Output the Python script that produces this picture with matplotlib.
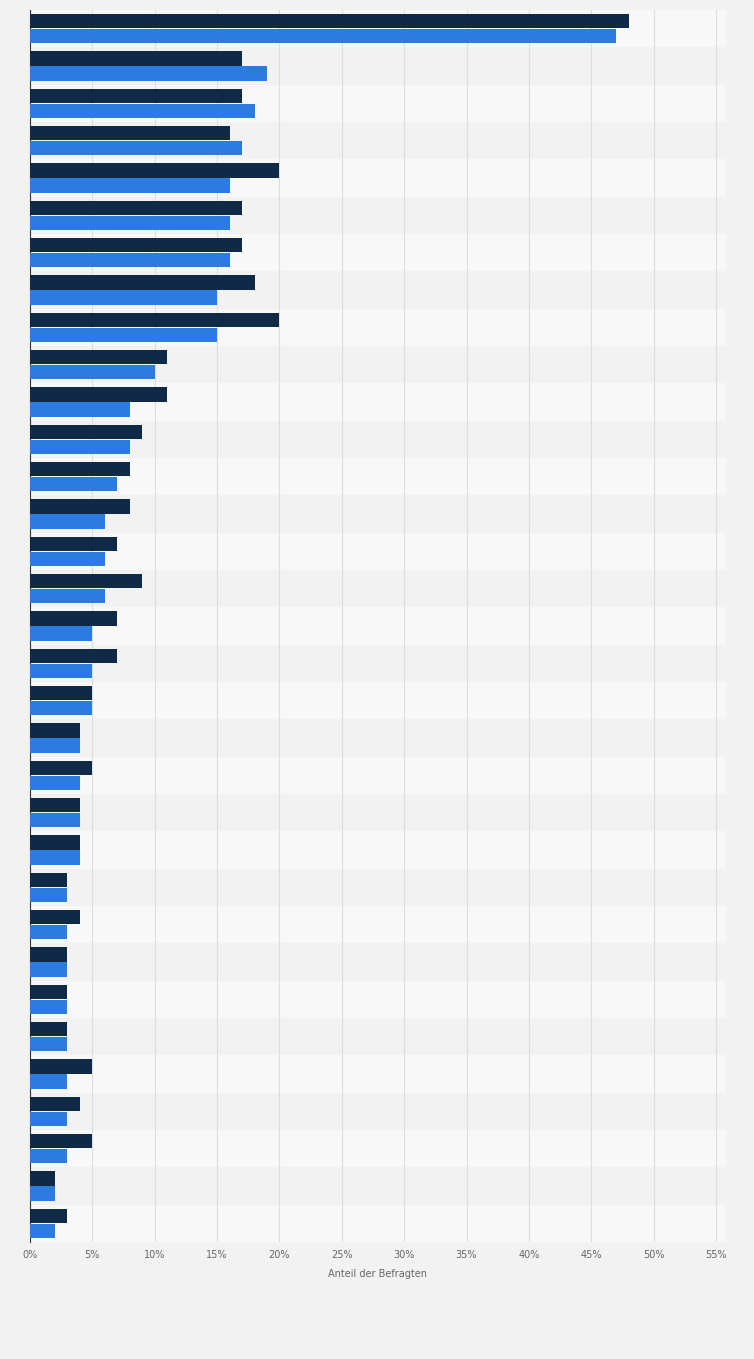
import numpy as np
import matplotlib.pyplot as plt

# two survey waves, one row per answer option (labels not shown in the source)
dark_values = [48, 17, 17, 16, 20, 17, 17, 18, 20, 11, 11, 9, 8, 8, 7, 9, 7,
               7, 5, 4, 5, 4, 4, 3, 4, 3, 3, 3, 5, 4, 5, 2, 3]
blue_values = [47, 19, 18, 17, 16, 16, 16, 15, 15, 10, 8, 8, 7, 6, 6, 6, 5,
               5, 5, 4, 4, 4, 4, 3, 3, 3, 3, 3, 3, 3, 3, 2, 2]
x_ticks = list(range(0, 60, 5))
x_label = "Anteil der Befragten"

n = len(dark_values)
y = np.arange(n)

fig = plt.figure(figsize=(7.54, 13.59), dpi=100, facecolor="#f2f2f2")
ax = fig.add_axes([30 / 754, 1 - 1242 / 1359, 696 / 754, 1232 / 1359])
ax.set_facecolor("#f8f8f8")

for i in range(n):
    if i % 2 == 1:
        ax.axhspan(i - 0.5, i + 0.5, color="#f2f2f2", zorder=0, lw=0)

ax.barh(y - 0.2, dark_values, height=0.38, color="#0f2a47", zorder=3)
ax.barh(y + 0.2, blue_values, height=0.38, color="#2c7be0", zorder=3)

ax.set_xlim(0, 55.8)
ax.set_ylim(n - 0.5, -0.5)
ax.set_xticks(x_ticks)
ax.set_xticklabels([f"{t}%" for t in x_ticks], fontsize=7, color="#666666")
ax.set_yticks([])
ax.grid(axis="x", color="#dddddd", lw=0.8, zorder=1)
ax.tick_params(axis="x", length=0, pad=6)
for side in ["top", "right", "bottom"]:
    ax.spines[side].set_visible(False)
ax.spines["left"].set_color("#333333")
ax.spines["left"].set_linewidth(0.8)
ax.set_xlabel(x_label, fontsize=7, color="#666666", labelpad=6)

fig.savefig("out.png", dpi=100, facecolor=fig.get_facecolor())
